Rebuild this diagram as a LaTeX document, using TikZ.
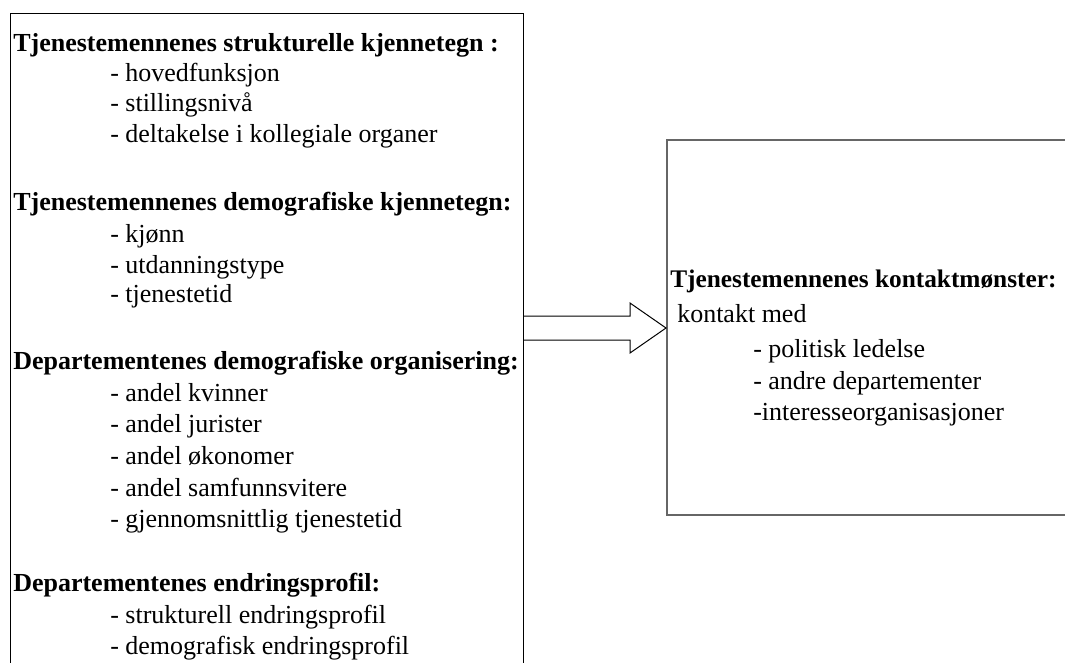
\documentclass[tikz,border=0pt]{standalone}
\usepackage{fontspec}
\setmainfont{Liberation Serif}

\begin{document}
\begin{tikzpicture}[x=0.75pt,y=-0.75pt,
    head/.style={anchor=base west,inner sep=0pt,font=\fontsize{19.5}{23.8}\selectfont\bfseries},
    item/.style={anchor=base west,inner sep=0pt,font=\fontsize{19.5}{23.8}\selectfont}]

    \useasboundingbox (0,0) rectangle (1065,662);
    \clip (0,0) rectangle (1065,662);

    % Boxes
    \draw[line width=0.75pt] (10,13) rectangle (523,690);
    \draw[line width=1pt,black!60] (667,140) rectangle (1090,515);

    % Left box: structural features
    \node[head] (sa)  at (13,51)  {Tjenestemennenes strukturelle kjennetegn :};
    \node[item] (sa1) at (110,81) {- hovedfunksjon};
    \node[item] (sa2) at (110,111) {- stillingsnivå};
    \node[item] (sa3) at (110,142) {- deltakelse i kollegiale organer};

    % Left box: demographic features
    \node[head] (sb)  at (13,210) {Tjenestemennenes demografiske kjennetegn:};
    \node[item] (sb1) at (110,242) {- kjønn};
    \node[item] (sb2) at (110,273) {- utdanningstype};
    \node[item] (sb3) at (110,302) {- tjenestetid};

    % Left box: demographic organisation
    \node[head] (sc)  at (13,369) {Departementenes demografiske organisering:};
    \node[item] (sc1) at (110,401) {- andel kvinner};
    \node[item] (sc2) at (110,432) {- andel jurister};
    \node[item] (sc3) at (110,464) {- andel økonomer};
    \node[item] (sc4) at (110,496) {- andel samfunnsvitere};
    \node[item] (sc5) at (110,527) {- gjennomsnittlig tjenestetid};

    % Left box: change profile
    \node[head] (sd)  at (13,591) {Departementenes endringsprofil:};
    \node[item] (sd1) at (110,623) {- strukturell endringsprofil};
    \node[item] (sd2) at (110,654) {- demografisk endringsprofil};

    % Right box: contact pattern
    \node[head,font=\fontsize{19}{23.8}\selectfont\bfseries] (ka) at (670,287) {Tjenestemennenes kontaktmønster:};
    \node[item] (ka0) at (677,322) {kontakt med};
    \node[item] (ka1) at (753,357) {- politisk ledelse};
    \node[item] (ka2) at (753,389) {- andre departementer};
    \node[item] (ka3) at (753,420) {-interesseorganisasjoner};

    % Block arrow between the boxes
    \coordinate (out) at (523,328);
    \coordinate (in)  at (666,328);
    \draw[line width=0.75pt,line join=miter]
        (out) ++(0,-12) -- ++(107,0) -- ++(0,-13) -- (in)
        -- ++(-36,25) -- ++(0,-13) -- ++(-107,0);

\end{tikzpicture}
\end{document}
